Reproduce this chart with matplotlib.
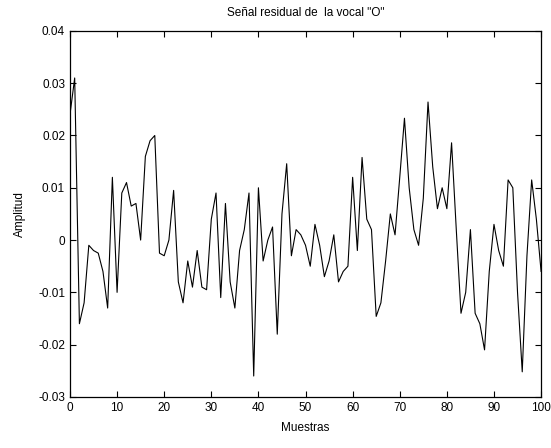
import matplotlib.pyplot as plt
import numpy as np

plt.rcParams['font.family'] = ['Liberation Sans', 'DejaVu Sans']

# residual signal samples
muestras = np.arange(0, 101)
amplitud = [
    0.024, 0.031, -0.016, -0.012, -0.001, -0.002, -0.0025, -0.006, -0.013, 0.012,
    -0.010, 0.009, 0.011, 0.0065, 0.007, 0.000, 0.016, 0.019, 0.020, -0.0025,
    -0.003, 0.000, 0.0095, -0.008, -0.012, -0.004, -0.009, -0.002, -0.009, -0.0095,
    0.004, 0.009, -0.011, 0.007, -0.008, -0.013, -0.002, 0.002, 0.009, -0.026,
    0.010, -0.004, 0.000, 0.0025, -0.018, 0.005, 0.0146, -0.003, 0.002, 0.001,
    -0.001, -0.005, 0.003, -0.001, -0.007, -0.004, 0.001, -0.008, -0.006, -0.005,
    0.012, -0.002, 0.0158, 0.004, 0.002, -0.0146, -0.012, -0.004, 0.005, 0.001,
    0.012, 0.0233, 0.010, 0.002, -0.001, 0.008, 0.0264, 0.014, 0.006, 0.010,
    0.006, 0.0186, 0.002, -0.014, -0.010, 0.002, -0.014, -0.016, -0.021, -0.006,
    0.003, -0.002, -0.005, 0.0115, 0.010, -0.010, -0.0252, -0.003, 0.0115, 0.004,
    -0.006,
]

x_ticks = list(range(0, 101, 10))
y_ticks = [-0.03, -0.02, -0.01, 0, 0.01, 0.02, 0.03, 0.04]
y_labels = ['-0.03', '-0.02', '-0.01', '0', '0.01', '0.02', '0.03', '0.04']

fig = plt.figure(figsize=(5.51, 4.48), dpi=100)
ax = fig.add_axes([0.127, 0.114, 0.855, 0.817])

ax.plot(muestras, amplitud, color='black', linewidth=0.8)

ax.set_xlim(0, 100)
ax.set_ylim(-0.03, 0.04)
ax.set_xticks(x_ticks)
ax.set_yticks(y_ticks)
ax.set_yticklabels(y_labels)
ax.tick_params(direction='in', top=True, right=True, labelsize=8.5, length=4, width=0.8)
for s in ax.spines.values():
    s.set_linewidth(0.9)

ax.set_title('Señal residual de  la vocal "O"', fontsize=8.5, pad=11)
ax.set_xlabel('Muestras', fontsize=8.5, labelpad=6)
ax.set_ylabel('Amplitud', fontsize=8.5, labelpad=9)

fig.savefig('out.png', dpi=100)
